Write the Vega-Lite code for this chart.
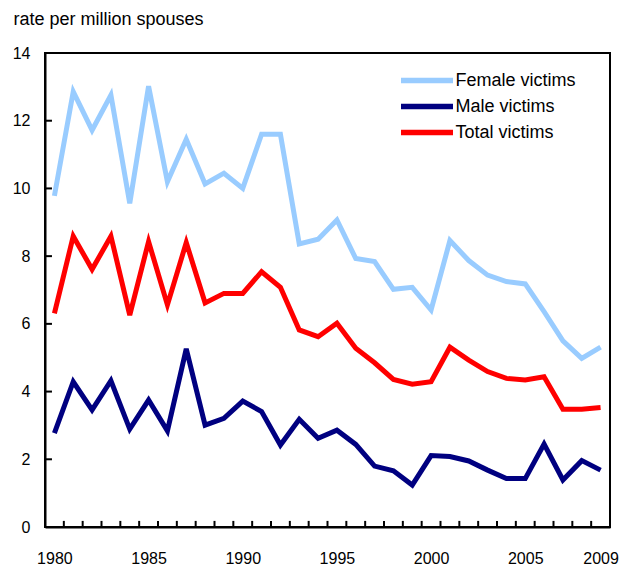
{
  "$schema": "https://vega.github.io/schema/vega-lite/v6.json",
  "width": 565,
  "height": 474,
  "autosize": {"type": "none"},
  "padding": {"left": 45, "top": 53, "right": 14, "bottom": 40},
  "view": {"stroke": "black", "strokeWidth": 2},
  "datasets": {
    "ytickvals": [{"v": 2}, {"v": 4}, {"v": 6}, {"v": 8}, {"v": 10}, {"v": 12}],
    "xtickvals": [
      {"b": 1980.5}, {"b": 1981.5}, {"b": 1982.5}, {"b": 1983.5}, {"b": 1984.5}, {"b": 1985.5},
      {"b": 1986.5}, {"b": 1987.5}, {"b": 1988.5}, {"b": 1989.5}, {"b": 1990.5}, {"b": 1991.5},
      {"b": 1992.5}, {"b": 1993.5}, {"b": 1994.5}, {"b": 1995.5}, {"b": 1996.5}, {"b": 1997.5},
      {"b": 1998.5}, {"b": 1999.5}, {"b": 2000.5}, {"b": 2001.5}, {"b": 2002.5}, {"b": 2003.5},
      {"b": 2004.5}, {"b": 2005.5}, {"b": 2006.5}, {"b": 2007.5}, {"b": 2008.5}
    ],
    "rates": [
      {"year": 1980, "series": "Female victims", "value": 9.78},
      {"year": 1981, "series": "Female victims", "value": 12.86},
      {"year": 1982, "series": "Female victims", "value": 11.72},
      {"year": 1983, "series": "Female victims", "value": 12.76},
      {"year": 1984, "series": "Female victims", "value": 9.56},
      {"year": 1985, "series": "Female victims", "value": 13.02},
      {"year": 1986, "series": "Female victims", "value": 10.2},
      {"year": 1987, "series": "Female victims", "value": 11.45},
      {"year": 1988, "series": "Female victims", "value": 10.13},
      {"year": 1989, "series": "Female victims", "value": 10.45},
      {"year": 1990, "series": "Female victims", "value": 10.0},
      {"year": 1991, "series": "Female victims", "value": 11.6},
      {"year": 1992, "series": "Female victims", "value": 11.6},
      {"year": 1993, "series": "Female victims", "value": 8.36},
      {"year": 1994, "series": "Female victims", "value": 8.5},
      {"year": 1995, "series": "Female victims", "value": 9.07},
      {"year": 1996, "series": "Female victims", "value": 7.93},
      {"year": 1997, "series": "Female victims", "value": 7.84},
      {"year": 1998, "series": "Female victims", "value": 7.02},
      {"year": 1999, "series": "Female victims", "value": 7.08},
      {"year": 2000, "series": "Female victims", "value": 6.41},
      {"year": 2001, "series": "Female victims", "value": 8.46},
      {"year": 2002, "series": "Female victims", "value": 7.87},
      {"year": 2003, "series": "Female victims", "value": 7.44},
      {"year": 2004, "series": "Female victims", "value": 7.25},
      {"year": 2005, "series": "Female victims", "value": 7.18},
      {"year": 2006, "series": "Female victims", "value": 6.36},
      {"year": 2007, "series": "Female victims", "value": 5.5},
      {"year": 2008, "series": "Female victims", "value": 4.98},
      {"year": 2009, "series": "Female victims", "value": 5.31},
      {"year": 1980, "series": "Male victims", "value": 2.77},
      {"year": 1981, "series": "Male victims", "value": 4.29},
      {"year": 1982, "series": "Male victims", "value": 3.46},
      {"year": 1983, "series": "Male victims", "value": 4.32},
      {"year": 1984, "series": "Male victims", "value": 2.89},
      {"year": 1985, "series": "Male victims", "value": 3.75},
      {"year": 1986, "series": "Male victims", "value": 2.84},
      {"year": 1987, "series": "Male victims", "value": 5.26},
      {"year": 1988, "series": "Male victims", "value": 3.01},
      {"year": 1989, "series": "Male victims", "value": 3.21},
      {"year": 1990, "series": "Male victims", "value": 3.72},
      {"year": 1991, "series": "Male victims", "value": 3.41},
      {"year": 1992, "series": "Male victims", "value": 2.42},
      {"year": 1993, "series": "Male victims", "value": 3.18},
      {"year": 1994, "series": "Male victims", "value": 2.62},
      {"year": 1995, "series": "Male victims", "value": 2.86},
      {"year": 1996, "series": "Male victims", "value": 2.44},
      {"year": 1997, "series": "Male victims", "value": 1.8},
      {"year": 1998, "series": "Male victims", "value": 1.66},
      {"year": 1999, "series": "Male victims", "value": 1.24},
      {"year": 2000, "series": "Male victims", "value": 2.11},
      {"year": 2001, "series": "Male victims", "value": 2.08},
      {"year": 2002, "series": "Male victims", "value": 1.95},
      {"year": 2003, "series": "Male victims", "value": 1.68},
      {"year": 2004, "series": "Male victims", "value": 1.43},
      {"year": 2005, "series": "Male victims", "value": 1.43},
      {"year": 2006, "series": "Male victims", "value": 2.45},
      {"year": 2007, "series": "Male victims", "value": 1.39},
      {"year": 2008, "series": "Male victims", "value": 1.96},
      {"year": 2009, "series": "Male victims", "value": 1.68},
      {"year": 1980, "series": "Total victims", "value": 6.31},
      {"year": 1981, "series": "Total victims", "value": 8.59},
      {"year": 1982, "series": "Total victims", "value": 7.61},
      {"year": 1983, "series": "Total victims", "value": 8.59},
      {"year": 1984, "series": "Total victims", "value": 6.26},
      {"year": 1985, "series": "Total victims", "value": 8.43},
      {"year": 1986, "series": "Total victims", "value": 6.56},
      {"year": 1987, "series": "Total victims", "value": 8.4},
      {"year": 1988, "series": "Total victims", "value": 6.62},
      {"year": 1989, "series": "Total victims", "value": 6.9},
      {"year": 1990, "series": "Total victims", "value": 6.9},
      {"year": 1991, "series": "Total victims", "value": 7.54},
      {"year": 1992, "series": "Total victims", "value": 7.08},
      {"year": 1993, "series": "Total victims", "value": 5.82},
      {"year": 1994, "series": "Total victims", "value": 5.62},
      {"year": 1995, "series": "Total victims", "value": 6.02},
      {"year": 1996, "series": "Total victims", "value": 5.28},
      {"year": 1997, "series": "Total victims", "value": 4.85},
      {"year": 1998, "series": "Total victims", "value": 4.36},
      {"year": 1999, "series": "Total victims", "value": 4.22},
      {"year": 2000, "series": "Total victims", "value": 4.29},
      {"year": 2001, "series": "Total victims", "value": 5.31},
      {"year": 2002, "series": "Total victims", "value": 4.93},
      {"year": 2003, "series": "Total victims", "value": 4.59},
      {"year": 2004, "series": "Total victims", "value": 4.39},
      {"year": 2005, "series": "Total victims", "value": 4.34},
      {"year": 2006, "series": "Total victims", "value": 4.44},
      {"year": 2007, "series": "Total victims", "value": 3.48},
      {"year": 2008, "series": "Total victims", "value": 3.48},
      {"year": 2009, "series": "Total victims", "value": 3.53}
    ]
  },
  "layer": [
    {
      "data": {"name": "rates"},
      "mark": {"type": "line", "strokeWidth": 5, "strokeJoin": "miter"},
      "encoding": {
        "x": {
          "field": "year", "type": "quantitative",
          "scale": {"domain": [1979.5, 2009.5], "nice": false, "zero": false},
          "axis": {
            "title": null, "grid": false, "labelAngle": 0, "format": "d",
            "values": [1980, 1985, 1990, 1995, 2000, 2005, 2009],
            "domainColor": "black", "domainWidth": 2,
            "ticks": false, "tickSize": 0,
            "labelPadding": 23, "labelColor": "black", "labelFont": "Liberation Sans", "labelFontSize": 16
          }
        },
        "y": {
          "field": "value", "type": "quantitative",
          "scale": {"domain": [0, 14], "nice": false},
          "axis": {
            "values": [0, 2, 4, 6, 8, 10, 12, 14], "grid": false,
            "domainColor": "black", "domainWidth": 2,
            "ticks": false, "tickSize": 0,
            "labelPadding": 15, "labelColor": "black", "labelFont": "Liberation Sans", "labelFontSize": 16,
            "title": "rate per million spouses", "titleAngle": 0, "titleAlign": "left",
            "titleBaseline": "alphabetic", "titleX": -32, "titleY": -29,
            "titleFontSize": 18, "titleFontWeight": "normal", "titleColor": "black", "titleFont": "Liberation Sans"
          }
        },
        "color": {
          "field": "series", "type": "nominal",
          "scale": {"domain": ["Female victims", "Male victims", "Total victims"], "range": ["#99ccff", "#000080", "#ff0000"]},
          "legend": {
            "title": null, "orient": "none", "legendX": 372.5, "legendY": 18, "padding": 0,
            "symbolType": "M-4,0H4", "symbolSize": 169, "symbolStrokeWidth": 5.5,
            "labelOffset": 19, "rowPadding": 3, "labelFontSize": 18, "labelColor": "black",
            "labelFont": "Liberation Sans", "labelBaseline": "middle"
          }
        }
      }
    },
    {
      "data": {"name": "ytickvals"},
      "mark": {"type": "rule", "color": "black", "strokeWidth": 2},
      "encoding": {
        "y": {"field": "v", "type": "quantitative"},
        "x": {"datum": 1979.5, "type": "quantitative"},
        "x2": {"datum": 1979.87}
      }
    },
    {
      "data": {"name": "xtickvals"},
      "mark": {"type": "rule", "color": "black", "strokeWidth": 2},
      "encoding": {
        "x": {"field": "b", "type": "quantitative"},
        "y": {"datum": 0, "type": "quantitative"},
        "y2": {"datum": 0.18}
      }
    }
  ]
}
